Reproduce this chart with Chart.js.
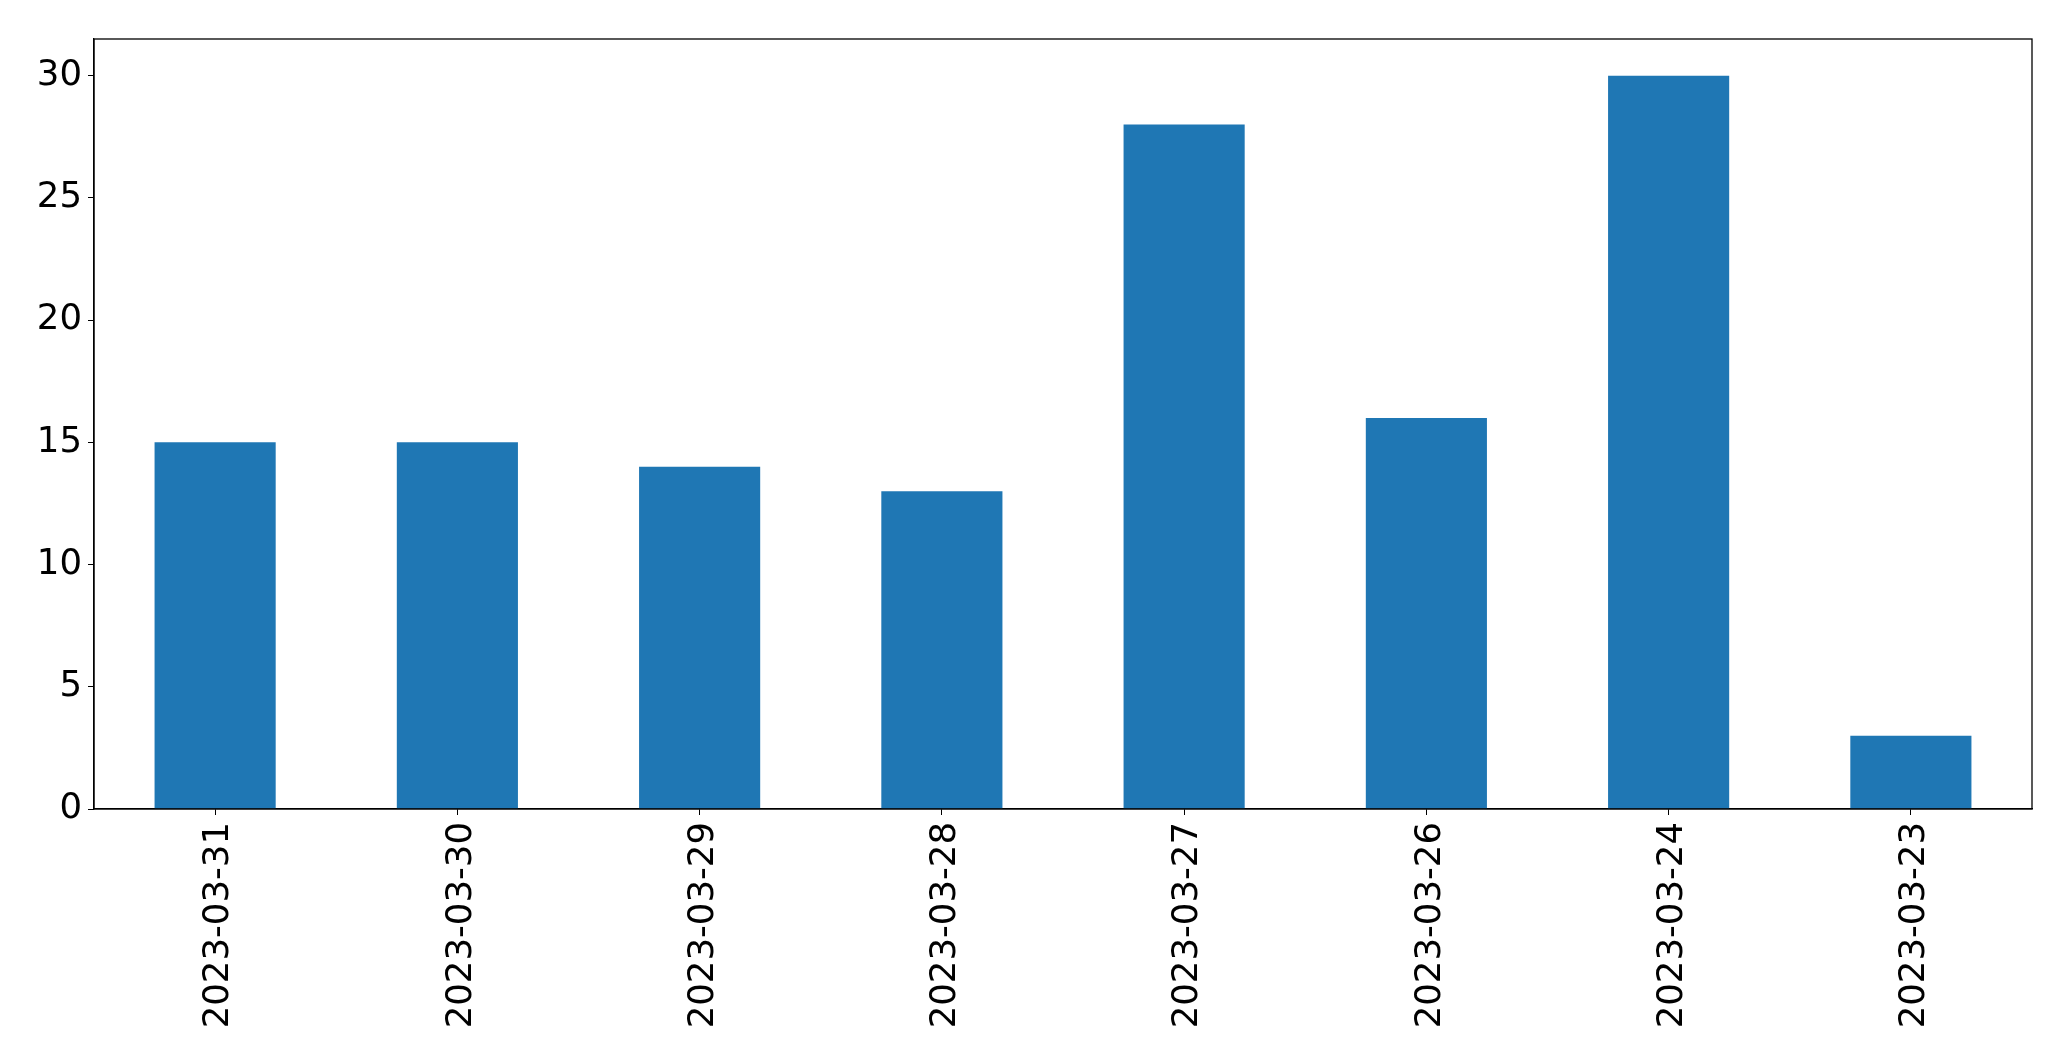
<!DOCTYPE html>
<html>
<head>
<meta charset="utf-8">
<script src="https://cdn.jsdelivr.net/npm/chart.js@4/dist/chart.umd.min.js"></script>
<style>
    html, body { margin: 0; padding: 0; background: #fff; }
    #wrap { width: 2071px; height: 1061px; }
</style>
</head>
<body>
<div id="wrap"><canvas id="dayCounts"></canvas></div>
<script>
const days = ['2023-03-31', '2023-03-30', '2023-03-29', '2023-03-28',
    '2023-03-27', '2023-03-26', '2023-03-24', '2023-03-23'];
const counts = [15, 15, 14, 13, 28, 16, 30, 3];
const yTicks = [0, 5, 10, 15, 20, 25, 30];

const ctx = document.getElementById('dayCounts');

Chart.defaults.font.family = "'DejaVu Sans', sans-serif";
Chart.defaults.font.size = 35.5;
Chart.defaults.color = '#000';

// full box around the plot, like matplotlib spines
const frame = {
    id: 'frame',
    afterDraw(chart) {
        const { ctx, chartArea: a } = chart;
        ctx.save();
        ctx.strokeStyle = '#000';
        ctx.lineWidth = 1.3;
        ctx.strokeRect(a.left, a.top, a.right - a.left, a.bottom - a.top);
        ctx.restore();
    }
};

// eslint-disable-next-line no-unused-vars
const dayChart = new Chart(ctx, {
    type: 'bar',
    data: {
        labels: days,
        datasets: [{
            label: 'count',
            data: counts,
            backgroundColor: '#1f77b4',
            borderWidth: 0,
            barPercentage: 0.5,
            categoryPercentage: 1.0
        }]
    },
    options: {
        responsive: true,
        maintainAspectRatio: false,
        animation: false,
        layout: {
            padding: { top: 39, right: 39, left: 0, bottom: 0 }
        },
        plugins: {
            legend: { display: false },
            tooltip: { enabled: false }
        },
        scales: {
            x: {
                grid: { offset: false, drawOnChartArea: false, drawTicks: true, tickLength: 6, color: '#000' },
                border: { display: true, color: '#000', width: 1.3 },
                ticks: { minRotation: 90, maxRotation: 90, padding: 7, labelOffset: 4 },
                afterFit(scale) { scale.height = 252; }
            },
            y: {
                min: 0,
                max: 31.5,
                grid: { drawOnChartArea: false, drawTicks: true, tickLength: 6, color: '#000' },
                border: { display: true, color: '#000', width: 1.3 },
                ticks: { stepSize: 5, includeBounds: false, padding: 6 },
                afterBuildTicks(scale) { scale.ticks = yTicks.map(v => ({ value: v })); },
                afterFit(scale) { scale.width = 94; }
            }
        }
    },
    plugins: [frame]
});
</script>
</body>
</html>
